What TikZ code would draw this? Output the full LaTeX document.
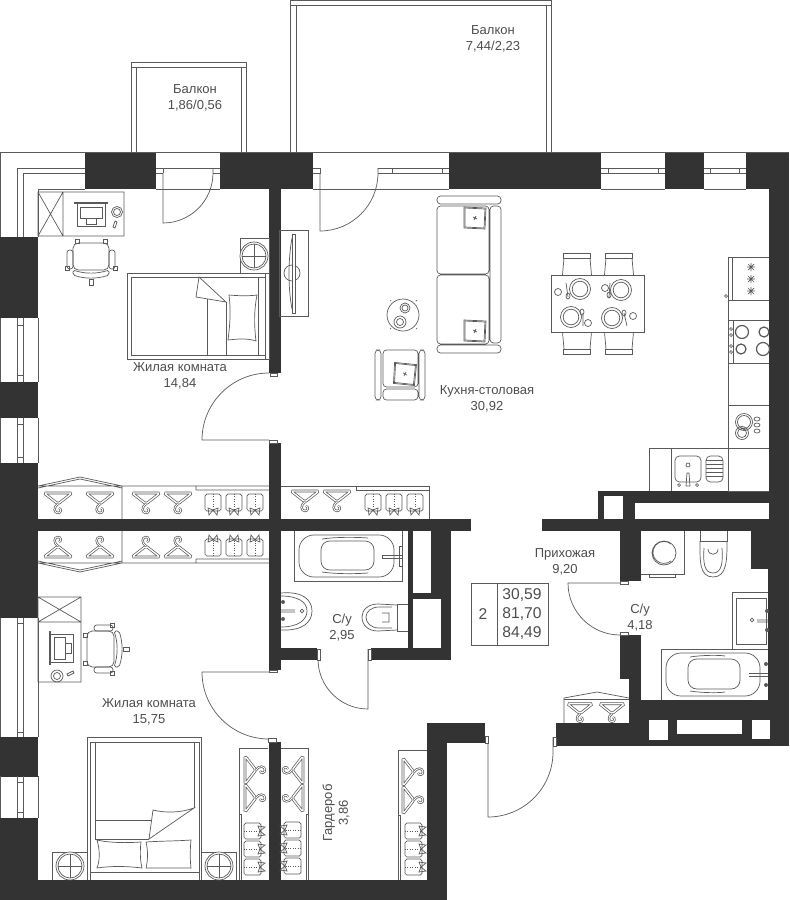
\documentclass[tikz,border=0pt]{standalone}
\usepackage{fontspec}
\setmainfont{Liberation Sans}
\definecolor{wallcol}{HTML}{333333}
\definecolor{linecol}{HTML}{5A5A5A}
\definecolor{textcol}{HTML}{4D4D4D}
\tikzset{
  imagepic/.style={yscale=-1},
  wall/.style={fill=wallcol},
  thinline/.style={draw=linecol,line width=0.4pt},
  roomlabel/.style={inner sep=0pt,align=center,text=textcol,font=\fontsize{7.4}{9}\selectfont},
  tablelabel/.style={inner sep=0pt,text=textcol,font=\fontsize{8.9}{9}\selectfont},
  hanger/.pic={
    \draw[thinline,double=white,double distance=0.75pt,rounded corners=1pt] (-14,-8) -- (14,-8) -- (0,3) -- cycle;
    \draw[thinline,double=white,double distance=0.5pt] (0,3) .. controls (-5,6) and (-4,12) .. (0,12) .. controls (3,12) and (4,8) .. (1,7);
  },
  shirt/.pic={
    \draw[thinline,rounded corners=1pt] (-8,-10) rectangle (8,7);
    \draw[thinline,densely dotted] (0,-10) -- (0,7);
    \draw[thinline] (0,6) -- (-5,4) -- (-4,11) -- cycle (0,6) -- (5,4) -- (4,11) -- cycle;
  },
  plate/.pic={
    \draw[thinline] (0,0) circle (10.5) (0,0) circle (7.8);
  },
  cushion/.pic={
    \draw[thinline] (-11,-11) -- (11,-10) -- (10,11) -- (-11,10) -- cycle;
    \draw[thinline] (-10,-10) -- (10,-9) -- (9,10) -- (-10,9) -- cycle;
    \draw[thinline] (-2,-1) -- (2,1) (1,-2) -- (-1,2);
  },
  nighttable/.pic={
    \draw[thinline,fill=white] (0,0) circle (14) (0,0) circle (12);
    \draw[thinline] (-12,0) -- (12,0) (0,-12) -- (0,12);
  },
  diningchair/.pic={
    \draw[thinline] (-13.5,0) rectangle (13.5,5);
    \draw[thinline] (-13,5) -- (-14.5,22) (13,5) -- (14.5,22);
  },
  officechair/.pic={
    \draw[thinline,rounded corners=3pt] (-18,-15) rectangle (18,12);
    \draw[thinline,rounded corners=1.5pt] (-24,-8) rectangle (-18,11) (18,-8) rectangle (24,11);
    \draw[thinline,rounded corners=1pt] (-18,12) .. controls (-6,16) and (6,16) .. (18,12) -- (18,17) .. controls (6,21) and (-6,21) .. (-18,17) -- cycle;
    \draw[thinline] (-2,21) rectangle (2,27);
    \draw[thinline] (-16,-19) rectangle (-12,-15) (12,-19) rectangle (16,-15);
    \draw[thinline] (-26,8) rectangle (-22,12) (22,8) rectangle (26,12);
  },
  flatmonitor/.pic={
    \draw[thinline] (-17,-11) -- (17,-11) (-17,-9.5) -- (17,-9.5);
    \draw[thinline] (-14,-9.5) rectangle (14,13);
    \draw[thinline] (-11,-6) rectangle (11,5);
    \draw[thinline] (-5,5) rectangle (5,11);
  }
}
\begin{document}
\begin{tikzpicture}[x=0.02cm,y=0.02cm,yscale=-1]
  \useasboundingbox (0,0) rectangle (789,900);
  \foreach \xa/\ya/\xb/\yb in {85/152/156/189,220/152/313/189,449/152/601/189,665/152/704/189,746/152/789/189,
    769/152/789/531,751/531/789/569,768/531/789/746,
    0/237/38/318,0/382/38/418,0/463/38/618,0/737/38/777,0/818/38/900,
    0/880/447/900,0/519/471/531,542/519/789/531,
    269/189/281/373,269/443/281/519,269/531/281/670,269/742/281/880,
    281/648/317/660,371/648/451/660,408/531/413/648,431/531/451/593,413/593/451/599,441/599/451/660,
    598/491/789/496,598/491/604/519,623/496/635/519,623/496/789/503,770/496/789/519,
    620/531/641/581,620/635/641/679,629/679/641/746,641/700/789/746,556/723/641/746,
    427/723/485/743,427/723/447/900}
    \fill[wall] (\xa,\ya) rectangle (\xb,\yb);
  \foreach \xa/\ya/\xb/\yb in {649/720/668/740,677/720/742/734,752/720/770/739}
    \fill[white] (\xa,\ya) rectangle (\xb,\yb);

  \draw[thinline] (131,152) -- (131,62) -- (246,62) -- (246,152) (136,152) -- (136,67) -- (241,67) -- (241,152) (131,67) -- (136,67) (241,67) -- (246,67);
  \draw[thinline] (290,152) -- (290,0.3) -- (551,0.3) -- (551,152) (296,152) -- (296,5.5) -- (546,5.5) -- (546,152) (290,5.5) -- (296,5.5) (546,5.5) -- (551,5.5);

  \draw[thinline] (0,237) -- (0,152) -- (789,152);
  \draw[thinline] (17,237) -- (17,168) -- (85,168) (23,237) -- (23,173) -- (85,173) (38,237) -- (38,189) -- (85,189);
  \foreach \xa/\xb in {156/220,313/449,601/665,704/746}
    \draw[thinline] (\xa,189) -- (\xb,189);
  \foreach \xa/\xb/\ta/\tb in {601/665/608/658,704/746/710/739}
    \draw[thinline] (\xa,168) -- (\xb,168) (\xa,173) -- (\xb,173) (\ta,168) -- (\ta,173) (\tb,168) -- (\tb,173);
  \draw[thinline] (156,168) -- (220,168) (156,173) -- (163,173) (163,168) -- (163,173) (213,168) -- (220,168) (213,173) -- (220,173);
  \draw[thinline] (313,168) -- (320,168) -- (320,173) -- (313,173) (378,168) -- (449,168) (378,173) -- (449,173) (392,168) -- (392,173) (442,168) -- (442,173);
  \foreach \ya/\yb/\ta/\tb in {318/382/325/375,418/463/424/457,618/737/623/732,776/818/782/812}
    \draw[thinline] (0,\ya) -- (0,\yb) (17,\ya) -- (17,\yb) (23,\ya) -- (23,\yb) (38,\ya) -- (38,\yb) (17,\ta) -- (23,\ta) (17,\tb) -- (23,\tb);

  \draw[thinline] (163,173) -- (163,223) arc[start angle=90,end angle=0,radius=50] -- (213,168);
  \draw[thinline] (320,173) -- (320,231) arc[start angle=90,end angle=0,radius=58] -- (378,168);
  \draw[thinline] (269,440) -- (202,440) arc[start angle=180,end angle=270,radius=67];
  \draw[thinline] (269,672) -- (202,672) arc[start angle=180,end angle=90,radius=67];
  \draw[thinline] (368,649) -- (368,709) arc[start angle=90,end angle=180,radius=50] -- (318,649);
  \draw[thinline] (488,737) -- (488,817) arc[start angle=90,end angle=0,radius=65] -- (553,737);
  \draw[thinline] (620,583) -- (568,583) arc[start angle=180,end angle=90,radius=52];
  \foreach \xa/\ya/\xb/\yb in {270/373/277/376,269/440/277/443,269/670/277/672,268/738/276/742,317/649/320/660,368/649/371/660,485/736/488/743,553/737/556/746,620/581/628/584,620/632/628/635}
    \draw[thinline,fill=white] (\xa,\ya) rectangle (\xb,\yb);

  \draw[thinline] (38,192) rectangle (124,236) (63,192) -- (63,236) (38,192) -- (63,236) (38,236) -- (63,192);
  \pic[imagepic] at (91,213) {flatmonitor};
  \draw[thinline] (117,212) circle (5.5) (117,212) circle (3.5) (113,227) -- (115,221) -- (117,222) -- (115,228) -- cycle;
  \pic[imagepic] at (91,258) {officechair};
  \draw[thinline] (240,238) rectangle (269,273);
  \pic at (254,256) {nighttable};

  \draw[thinline] (127,273) rectangle (269,359) (131,277) -- (265,277) (131,355) -- (265,355) (131,277) -- (131,355) (258,277) -- (258,355) (265,273) -- (265,359);
  \draw[thinline] (207,298) -- (207,355) (226,302) -- (226,355);
  \draw[thinline,fill=white] (199,277) -- (196,297) -- (226,302) -- cycle;
  \draw[thinline] (229,295) .. controls (240,296) and (250,296) .. (257,295) .. controls (254,310) and (254,325) .. (256,341) .. controls (247,338) and (237,339) .. (228,340) .. controls (230,325) and (231,310) .. (229,295);

  \draw[thinline] (279,230) rectangle (308,316);
  \draw[thinline] (292,273) circle (8);
  \draw[thinline,fill=white] (292,234) rectangle (295,313);
  \draw[thinline] (292,238) .. controls (288,260) and (288,288) .. (292,309);

  \draw[thinline,rounded corners=2pt] (437,196) rectangle (501,204) (437,345) rectangle (501,353) (437,206) rectangle (489,274) (437,275) rectangle (489,344) (490,206) rectangle (501,343);
  \pic[imagepic] at (475,218) {cushion};
  \pic[imagepic] at (475,331) {cushion};

  \draw[thinline] (403,315) circle (16);
  \draw[thinline] (405,308) circle (5) (405,308) circle (3) (400,322) circle (6) (400,322) circle (3.5);
  \draw[thinline] (391,301) -- (390,300) (416,301) -- (417,300) (391,328) -- (390,329) (416,328) -- (417,329);

  \draw[thinline,rounded corners=2pt] (375,350) rectangle (381,400) (419,350) rectangle (425,400) (383,350) rectangle (418,387) (383,389) rectangle (418,400);
  \pic[imagepic,rotate=3] at (405,374) {cushion};

  \draw[thinline] (551,275) rectangle (644,332);
  \foreach \cx in {577,619} {
    \pic[imagepic] at (\cx,253) {diningchair};
    \pic at (\cx,354) {diningchair};
  }
  \foreach \px/\py in {580/289,621/290,571/317,612/318}
    \pic at (\px,\py) {plate};
  \foreach \ax/\ay/\bx/\by/\sx/\sy/\cx/\cy in {566/283/568/297/568/296/558/292,610/283/609/297/609/295/605/288,583/313/583/326/582/312/588/323,624/313/627/326/624/313/633/316}
    \draw[thinline] (\ax,\ay) -- (\bx,\by) (\sx,\sy) ellipse (2 and 3) (\cx,\cy) circle (3.5);

  \draw[thinline] (769,257) -- (728,257) -- (728,491) -- (769,491) (728,300) -- (769,300) (732,257) -- (732,300) (728,320) -- (769,320) (728,363) -- (769,363) (733,320) -- (733,363) (728,405.5) -- (769,405.5) (728,448) -- (769,448);
  \foreach \sy in {267,279,291}
    \draw[thinline] (747,\sy) -- (755,\sy) (751,\sy-4) -- (751,\sy+4) (748,\sy-3) -- (754,\sy+3) (748,\sy+3) -- (754,\sy-3);
  \draw[thinline] (726,296) circle (1.5);
  \draw[line width=0.7pt,draw=linecol] (742,332) circle (6.5) (764,332) circle (5) (741,349) circle (5) (763,349) circle (6.5);
  \foreach \ky in {329,335,346,352}
    \draw[thinline] (731,\ky) circle (1.5);
  \draw[thinline] (744,422) circle (8.5) (744,422) circle (6.5) (742,433) circle (6.5) (742,433) circle (4.5);
  \foreach \ky in {419,425,431}
    \draw[thinline] (757,\ky) ellipse (3 and 2);

  \draw[thinline] (649.5,491) -- (649.5,448) -- (728,448) (671.5,448) -- (671.5,491);
  \draw[thinline,rounded corners=2.5pt] (675,456) rectangle (701,482) (706,456) rectangle (723,482);
  \foreach \ly in {460,464,468,472,476}
    \draw[thinline] (706,\ly) -- (723,\ly);
  \draw[thinline] (688,465) circle (2) (686,486) -- (687,473) -- (689,473) -- (690,486) -- cycle (679,485) circle (1.5) (697,485) circle (1.5);

  \draw[thinline] (38,486) -- (80,477) -- (122,486) (38,488) -- (80,479) -- (122,488) (38,486) -- (269,486) (122,486) -- (122,519) (196,490) -- (269,490) (196,486) -- (196,490);
  \draw[thinline] (38,563) -- (80,572) -- (122,563) (38,561) -- (80,570) -- (122,561) (38,563) -- (269,563) (122,531) -- (122,563) (196,559) -- (269,559) (196,559) -- (196,563);
  \foreach \hx/\hy in {58/501,100/501,146/501,178/501}
    \pic[imagepic] at (\hx,\hy) {hanger};
  \foreach \hx/\hy in {58/549,100/549,146/549,178/549}
    \pic at (\hx,\hy) {hanger};
  \foreach \sx in {213,234,255} {
    \pic[imagepic] at (\sx,504) {shirt};
    \pic at (\sx,546) {shirt};
  }

  \draw[thinline] (281,486) -- (429,486) -- (429,519) (356,486) -- (356,490) -- (429,490);
  \foreach \hx in {305,337}
    \pic[imagepic] at (\hx,499) {hanger};
  \foreach \sx in {373,394,415}
    \pic[imagepic] at (\sx,504) {shirt};

  \draw[thinline] (564,723) -- (564,698) -- (597,692) -- (629,698) (564,699.5) -- (629,699.5);
  \foreach \hx in {580,612}
    \pic[imagepic,scale=0.9] at (\hx,711) {hanger};

  \draw[thinline] (281,748) -- (308,748) -- (308,880) (306,814) -- (306,880) (306,814) -- (308,814);
  \draw[thinline] (427,750) -- (398,750) -- (398,880) (400,815) -- (400,880) (398,815) -- (400,815);
  \draw[thinline] (268,748) -- (239,748) -- (239,880) (241,814) -- (241,880) (239,814) -- (241,814);
  \foreach \hx/\hy in {293/770,293/798}
    \pic[rotate=90] at (\hx+2,\hy) {hanger};
  \foreach \hx/\hy in {413/772,413/800,255/770,255/798}
    \pic[rotate=-90] at (\hx-2,\hy) {hanger};
  \foreach \sy in {830,848,866} {
    \pic[rotate=90] at (291,\sy) {shirt};
    \pic[rotate=-90] at (415,\sy+1) {shirt};
    \pic[rotate=-90] at (254,\sy+1) {shirt};
  }

  \draw[thinline] (38,597) rectangle (81,622) (38,597) -- (81,622) (38,622) -- (81,597) (38,622) rectangle (81,682);
  \pic[rotate=-90] at (60,648) {flatmonitor};
  \draw[thinline] (57,676) circle (6) (57,676) circle (3.5) (67,674) -- (73,671) -- (74,673) -- (68,676) -- cycle;
  \pic[rotate=-90] at (102,649) {officechair};

  \draw[thinline] (87,880) -- (87,737) -- (201,737) -- (201,880) (90,880) -- (90,742) -- (199,742) -- (199,880) (95,742) -- (95,839) (194,742) -- (194,808);
  \draw[thinline] (90,872) -- (199,872);
  \draw[thinline] (95,820) -- (153,820) (95,839) -- (149,839);
  \draw[thinline,fill=white] (149,839) -- (153,810) .. controls (165,813) and (180,813) .. (194,808) -- cycle;
  \draw[thinline] (97,840) .. controls (110,843) and (127,843) .. (141,842) .. controls (140,850) and (140,860) .. (142,868) .. controls (127,866) and (110,866) .. (97,868) .. controls (100,860) and (100,850) .. (97,840);
  \draw[thinline] (146,842) .. controls (160,841) and (178,841) .. (191,840) .. controls (190,850) and (190,860) .. (191,868) .. controls (178,868) and (160,868) .. (146,868) .. controls (148,860) and (148,850) .. (146,842);
  \draw[thinline] (52,880) -- (52,852) -- (87,852) (201,852) -- (236,852) -- (236,880);
  \pic at (70,866) {nighttable};
  \pic at (219,866) {nighttable};

  \draw[thinline] (294,531) -- (294,581) -- (402,581) -- (402,531);
  \draw[thinline,rounded corners=8.5pt] (299,535) rectangle (394,577);
  \draw[thinline,rounded corners=5pt] (321,541) rectangle (374,570);
  \draw[thinline] (322,539) .. controls (335,537) and (355,537) .. (368,538) (322,572) .. controls (335,574) and (355,574) .. (368,573);
  \draw[thinline] (382,555) -- (402,555) -- (402,558) -- (382,558) -- cycle (399,546) rectangle (402,566);
  \draw[thinline] (281,593) .. controls (303,591) and (312,600) .. (312,611) .. controls (312,622) and (303,631) .. (281,630);
  \draw[thinline] (281,596) .. controls (298,596) and (307,602) .. (307,611) .. controls (307,620) and (298,627) .. (281,627);
  \draw[thinline] (281,610) -- (295,610) (281,612) -- (295,612) (302,611) circle (1.8);
  \draw[fill=linecol,draw=none] (283,602) circle (2) (283,619) circle (2);
  \draw[thinline] (408,604) -- (397,604) -- (397,631) -- (408,631);
  \draw[thinline] (397,605) -- (378,604) .. controls (368,604) and (362,610) .. (362,617) .. controls (362,625) and (368,631) .. (378,631) -- (397,630);
  \draw[thinline] (392,607) -- (379,607) .. controls (371,607) and (366,612) .. (366,617) .. controls (366,623) and (371,628) .. (379,628) -- (392,628) (382,613) -- (389,613) -- (389,622) -- (382,622);

  \draw[thinline] (641,574) -- (684,574) -- (684,531) (649,574) -- (649,577) -- (675,577) -- (675,574);
  \draw[thinline] (664,553) circle (12) (671,544) arc[start angle=-50,end angle=-310,radius=11];
  \draw[thinline] (700,531) -- (700,541) -- (727,541) -- (727,531);
  \draw[thinline] (700,541) .. controls (700,560) and (699,577) .. (713,577) .. controls (727,577) and (727,560) .. (727,541);
  \draw[thinline] (704,548) .. controls (703,562) and (704,573) .. (713,573) .. controls (722,573) and (723,562) .. (722,548) (708,549) .. controls (708,556) and (718,556) .. (718,549);
  \draw[thinline] (768,592) -- (732,592) -- (732,649) (736,598) rectangle (766,644);
  \draw[thinline] (752,620) circle (1.8) (757,620) -- (768,620) (757,622) -- (768,622);
  \draw[fill=linecol,draw=none] (767,611) circle (2) (767,630) circle (2);
  \draw[thinline] (768,649) -- (661,649) -- (661,700);
  \draw[thinline,rounded corners=8.5pt] (666,653) rectangle (760,696);
  \draw[thinline,rounded corners=5pt] (688,659) rectangle (740,689);
  \draw[thinline] (690,657) .. controls (702,655) and (720,655) .. (725,656) (690,691) .. controls (702,693) and (720,693) .. (725,692);
  \draw[thinline] (749,673) -- (768,673) (749,676) -- (768,676);
  \draw[fill=linecol,draw=none] (766,664) circle (2) (766,685) circle (2);

  \draw[thinline] (471,583) rectangle (548,645) (497,583) -- (497,645);

  \node[roomlabel] (balconysmall) at (195,98) {Балкон\\1,86/0,56};
  \node[roomlabel] (balconybig) at (493,39) {Балкон\\7,44/2,23};
  \node[roomlabel] (roomone) at (180,376) {Жилая комната\\14,84};
  \node[roomlabel] (kitchen) at (487,398.5) {Кухня-столовая\\30,92};
  \node[roomlabel] (hall) at (565,561.5) {Прихожая\\9,20};
  \node[roomlabel] (bathone) at (342,627.5) {С/у\\2,95};
  \node[roomlabel] (bathtwo) at (640,617.5) {С/у\\4,18};
  \node[roomlabel] (roomtwo) at (149,712) {Жилая комната\\15,75};
  \node[roomlabel,rotate=90] (closet) at (336,813) {Гардероб\\3,86};
  \node[tablelabel] (rooms) at (483,614) {2};
  \node[tablelabel] (areaa) at (522,595) {30,59};
  \node[tablelabel] (areab) at (522,614) {81,70};
  \node[tablelabel] (areac) at (522,633) {84,49};
\end{tikzpicture}
\end{document}
